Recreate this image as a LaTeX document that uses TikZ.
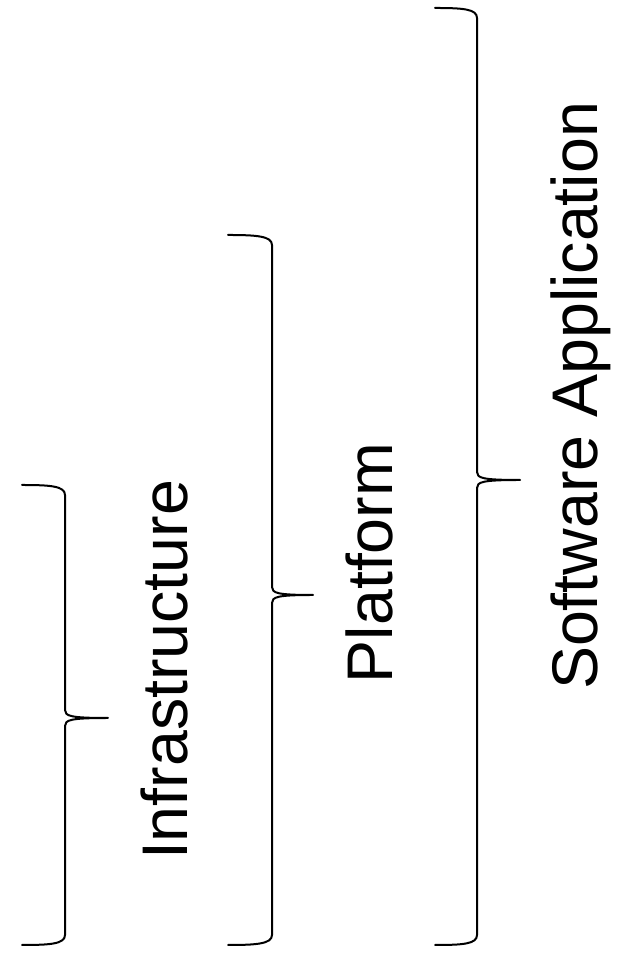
\documentclass[tikz,border=0pt]{standalone}
\usepackage{fontspec}
\setmainfont{Liberation Sans}
\begin{document}
\begin{tikzpicture}[x=1pt,y=1pt,
  bracepath/.style={draw=black,line width=2pt,line join=round,line cap=round},
  label/.style={rotate=90,anchor=base,inner sep=0pt,font=\fontsize{64.5}{77}\selectfont}]
\useasboundingbox (0,0) rectangle (620,957);
% Brace 1
\draw[bracepath] (22,472) .. controls (50,472) and (65,471) .. (65,462) -- (65,247)
  .. controls (65,241) and (70,239) .. (108,239)
  .. controls (70,239) and (65,237) .. (65,231) -- (65,22)
  .. controls (65,13) and (50,12) .. (22,12);
% Brace 2
\draw[bracepath] (228,722) .. controls (256,722) and (272,721) .. (272,712) -- (272,370)
  .. controls (272,364) and (277,362) .. (313,362)
  .. controls (277,362) and (272,360) .. (272,354) -- (272,22)
  .. controls (272,13) and (256,12) .. (228,12);
% Brace 3
\draw[bracepath] (435,949) .. controls (463,949) and (477,948) .. (477,939) -- (477,485)
  .. controls (477,479) and (482,477) .. (520,477)
  .. controls (482,477) and (477,475) .. (477,469) -- (477,22)
  .. controls (477,13) and (463,12) .. (435,12);
\node[label] (infra) at (187,287) {Infrastructure};
\node[label] (plat) at (392,394) {Platform};
\node[label] (soft) at (597,561) {Software Application};
\end{tikzpicture}
\end{document}
